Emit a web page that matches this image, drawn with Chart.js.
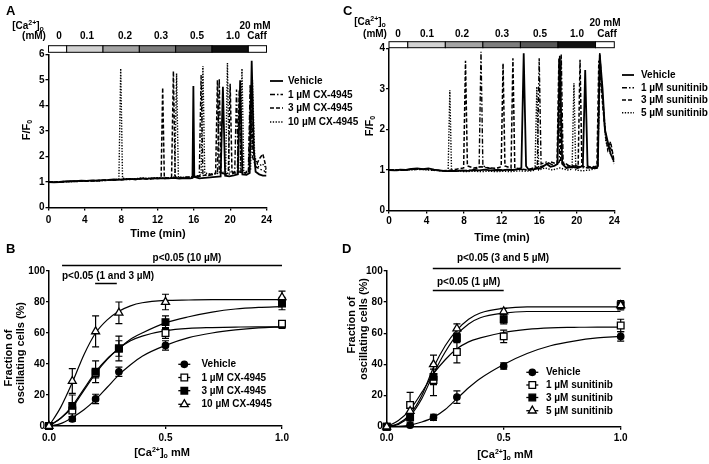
<!DOCTYPE html>
<html>
<head>
<meta charset="utf-8">
<script src="https://cdn.jsdelivr.net/npm/chart.js@4.4.0/dist/chart.umd.min.js"></script>
<style>
body { margin: 0; background: #fff; }
#wrap { position: relative; width: 709px; height: 464px; overflow: hidden; font-family: "Liberation Sans", Arial, sans-serif; font-weight: bold; color: #000; }
canvas { position: absolute; }
.t { position: absolute; white-space: nowrap; font-size: 10px; line-height: 1; }
.c { transform: translate(-50%, -50%); }
.l { transform: translateY(-50%); }
.r { transform: translate(-50%, -50%) rotate(-90deg); font-size: 11px; }
.big { font-size: 11px; }
.letter { font-size: 13px; }
.sup { font-size: 7px; position: relative; top: -4px; }
.sub { font-size: 7px; position: relative; top: 2px; }
</style>
</head>
<body>
<div id="wrap">
  <canvas id="chartA" width="354" height="240" style="left:0;top:0"></canvas>
  <canvas id="chartC" width="355" height="240" style="left:354px;top:0"></canvas>
  <canvas id="chartB" width="354" height="224" style="left:0;top:240px"></canvas>
  <canvas id="chartD" width="355" height="224" style="left:354px;top:240px"></canvas>

  <!-- panel A -->
  <div class="t l letter" style="left:6px;top:10px">A</div>
  <div class="t c" style="left:28px;top:26px">[Ca<span class="sup">2+</span>]<span class="sub">o</span></div>
  <div class="t c" style="left:34px;top:36px">(mM)</div>
  <div class="t c" style="left:59px;top:36px">0</div>
  <div class="t c" style="left:87px;top:36px">0.1</div>
  <div class="t c" style="left:125px;top:36px">0.2</div>
  <div class="t c" style="left:161px;top:36px">0.3</div>
  <div class="t c" style="left:197px;top:36px">0.5</div>
  <div class="t c" style="left:233px;top:36px">1.0</div>
  <div class="t c" style="left:257px;top:36px">Caff</div>
  <div class="t c" style="left:255px;top:26px">20 mM</div>
  <div class="t r" style="left:26px;top:130px">F/F<span class="sub">0</span></div>
  <div class="t c big" style="left:158px;top:233px">Time (min)</div>
  <div class="t l" style="left:288px;top:81px">Vehicle</div>
  <div class="t l" style="left:288px;top:94.5px">1 µM CX-4945</div>
  <div class="t l" style="left:288px;top:108px">3 µM CX-4945</div>
  <div class="t l" style="left:288px;top:122px">10 µM CX-4945</div>

  <!-- panel C -->
  <div class="t l letter" style="left:343px;top:10px">C</div>
  <div class="t c" style="left:370px;top:22px">[Ca<span class="sup">2+</span>]<span class="sub">o</span></div>
  <div class="t c" style="left:375px;top:33.5px">(mM)</div>
  <div class="t c" style="left:398px;top:33.5px">0</div>
  <div class="t c" style="left:427px;top:33.5px">0.1</div>
  <div class="t c" style="left:462px;top:33.5px">0.2</div>
  <div class="t c" style="left:502px;top:33.5px">0.3</div>
  <div class="t c" style="left:540px;top:33.5px">0.5</div>
  <div class="t c" style="left:577px;top:33.5px">1.0</div>
  <div class="t c" style="left:607px;top:33.5px">Caff</div>
  <div class="t c" style="left:605px;top:22.5px">20 mM</div>
  <div class="t r" style="left:369px;top:126px">F/F<span class="sub">0</span></div>
  <div class="t c big" style="left:502px;top:237px">Time (min)</div>
  <div class="t l" style="left:641px;top:75px">Vehicle</div>
  <div class="t l" style="left:641px;top:87.7px">1 µM sunitinib</div>
  <div class="t l" style="left:641px;top:100px">3 µM sunitinib</div>
  <div class="t l" style="left:641px;top:112.7px">5 µM sunitinib</div>

  <!-- panel B -->
  <div class="t l letter" style="left:6px;top:248px">B</div>
  <div class="t r" style="left:8px;top:358px">Fraction of</div>
  <div class="t r" style="left:20px;top:353px">oscillating cells (%)</div>
  <div class="t c big" style="left:162px;top:451.5px">[Ca<span class="sup">2+</span>]<span class="sub">o</span> mM</div>
  <div class="t c" style="left:187px;top:257.5px">p&lt;0.05 (10 µM)</div>
  <div class="t l" style="left:62px;top:275.5px">p&lt;0.05 (1 and 3 µM)</div>
  <div class="t l" style="left:201.5px;top:364.3px">Vehicle</div>
  <div class="t l" style="left:201.5px;top:377.5px">1 µM CX-4945</div>
  <div class="t l" style="left:201.5px;top:390.7px">3 µM CX-4945</div>
  <div class="t l" style="left:201.5px;top:404.3px">10 µM CX-4945</div>

  <!-- panel D -->
  <div class="t l letter" style="left:342px;top:248px">D</div>
  <div class="t r" style="left:351px;top:325px">Fraction of</div>
  <div class="t r" style="left:363px;top:329px">oscillating cells (%)</div>
  <div class="t c big" style="left:505px;top:454px">[Ca<span class="sup">2+</span>]<span class="sub">o</span> mM</div>
  <div class="t c" style="left:503px;top:258px">p&lt;0.05 (3 and 5 µM)</div>
  <div class="t l" style="left:437px;top:282.3px">p&lt;0.05 (1 µM)</div>
  <div class="t l" style="left:546px;top:372.3px">Vehicle</div>
  <div class="t l" style="left:546px;top:385px">1 µM sunitinib</div>
  <div class="t l" style="left:546px;top:397.5px">3 µM sunitinib</div>
  <div class="t l" style="left:546px;top:410.7px">5 µM sunitinib</div>
</div>

<script>
"use strict";

// ---- data: calcium protocol (minutes where each [Ca2+]o step starts/ends)
var caEdges = [0, 2, 6, 10, 14, 18, 22, 24];

// ---- panel A traces, [time (min), F/F0]
var aVehicle = [[0,1.0],[0.6,0.99],[1.2,1.0],[1.8,1.02],[2.4,1.03],[3,1.03],[3.6,1.05],[4.2,1.04],[4.8,1.06],[5.4,1.05],[6,1.07],[6.6,1.08],[7.2,1.1],[7.8,1.09],[8.4,1.11],[9,1.12],[9.6,1.1],[10.2,1.14],[10.8,1.12],[11.4,1.15],[12,1.13],[12.6,1.15],[13.2,1.14],[13.8,1.16],[14.4,1.13],[15,1.15],[15.6,1.14],[15.85,1.16],[15.95,4.76],[16.05,1.2],[16.6,1.14],[17.2,1.16],[17.8,1.18],[18.4,1.2],[18.95,1.22],[19.2,4.73],[19.45,1.25],[19.9,1.22],[20.4,1.26],[20.85,1.3],[21.1,4.99],[21.35,1.3],[21.8,1.28],[22.15,1.35],[22.37,5.75],[22.6,2.3],[22.8,1.4],[23.2,1.3],[23.6,1.25],[24,1.25]];
var aCx1 = [[0,1.0],[0.8,1.01],[1.6,1.0],[2.4,1.03],[3.2,1.02],[4,1.05],[4.8,1.04],[5.6,1.06],[6.4,1.08],[7.2,1.07],[8,1.1],[8.8,1.09],[9.6,1.12],[10.4,1.14],[11.2,1.12],[12,1.16],[12.8,1.14],[13.6,1.17],[14.4,1.15],[15.2,1.18],[16,1.2],[16.6,1.25],[16.8,5.2],[17.0,1.3],[17.6,1.25],[18.2,1.3],[18.6,1.35],[18.8,5.06],[19.0,1.35],[19.6,1.3],[20.2,1.32],[20.5,1.35],[20.7,4.63],[20.9,1.4],[21.5,1.35],[22.0,1.4],[22.2,4.8],[22.45,2.0],[22.8,1.6],[23.3,1.5],[23.7,1.45],[24,1.35]];
var aCx3 = [[0,1.0],[0.8,0.99],[1.6,1.01],[2.4,1.02],[3.2,1.04],[4,1.03],[4.8,1.05],[5.6,1.07],[6.4,1.06],[7.2,1.09],[8,1.08],[8.8,1.11],[9.6,1.1],[10.4,1.13],[11.2,1.12],[12,1.15],[12.4,1.16],[12.57,4.7],[12.75,1.18],[13.2,1.15],[13.55,1.2],[13.75,5.35],[13.95,1.2],[14.6,1.17],[15.4,1.2],[16.2,1.18],[17,1.25],[17.8,1.3],[18.4,1.35],[18.6,5.0],[18.8,1.4],[19.4,1.3],[19.8,1.35],[20.0,4.85],[20.2,1.4],[20.8,1.35],[21.0,4.6],[21.2,1.4],[21.7,1.35],[22.05,1.45],[22.25,4.75],[22.5,2.4],[22.8,1.6],[23.2,1.9],[23.6,2.1],[23.8,1.8],[24,1.5]];
var aCx10 = [[0,1.0],[0.8,1.0],[1.6,1.02],[2.4,1.01],[3.2,1.03],[4,1.04],[4.8,1.05],[5.6,1.04],[6.4,1.07],[7.2,1.08],[7.75,1.12],[7.95,5.45],[8.15,1.15],[8.8,1.12],[9.6,1.13],[10.4,1.16],[11.2,1.14],[12,1.17],[12.8,1.15],[13.6,1.18],[13.9,1.2],[14.1,5.25],[14.3,1.2],[15,1.18],[15.8,1.2],[16.5,1.25],[16.8,1.3],[17.0,5.55],[17.2,1.35],[18,1.3],[18.8,1.35],[19.5,1.4],[19.7,5.67],[19.9,1.4],[20.6,1.35],[21.1,1.4],[21.3,5.45],[21.5,1.45],[21.9,1.4],[22.25,1.5],[22.45,5.0],[22.7,2.0],[23.1,1.6],[23.5,1.7],[23.8,1.65],[24,1.4]];

// ---- panel C traces, [time (min), F/F0]
var cVehicle = [[0,1.0],[0.6,0.99],[1.2,1.01],[1.8,1.0],[2.4,1.03],[3,1.04],[3.6,1.02],[4.2,1.04],[4.8,1.01],[5.4,0.99],[6,0.97],[6.6,0.98],[7.2,0.97],[7.8,0.99],[8.4,0.98],[9,1.0],[9.6,0.99],[10.2,1.01],[10.8,0.99],[11.4,1.0],[12,0.99],[12.6,1.01],[13.2,1.0],[13.8,1.02],[14.1,1.05],[14.35,3.88],[14.6,1.1],[14.9,1.0],[15.5,1.02],[16.2,1.05],[16.8,1.15],[17.2,1.08],[17.6,1.1],[17.95,1.15],[18.2,3.82],[18.45,1.15],[18.9,1.05],[19.5,1.08],[20.1,1.05],[20.65,1.1],[20.9,3.47],[21.15,1.1],[21.6,1.05],[22.1,1.05],[22.25,1.1],[22.45,3.85],[22.75,3.0],[23.0,2.0],[23.3,1.7],[23.6,1.4],[24,1.2]];
var cSun1 = [[0,1.0],[0.8,1.01],[1.6,0.99],[2.4,1.02],[3.2,1.03],[4,1.01],[4.8,1.0],[5.6,0.98],[6.4,0.97],[7.2,0.99],[8,0.98],[8.8,1.0],[9.6,1.05],[9.8,3.92],[10.0,1.1],[10.6,1.05],[11.4,1.02],[12.2,1.0],[13.0,1.0],[13.8,1.02],[14.6,1.0],[15.4,1.05],[15.8,1.1],[16.0,3.76],[16.2,1.15],[16.8,1.2],[17.6,1.1],[18.15,1.2],[18.35,3.85],[18.55,1.2],[19.2,1.1],[20.0,1.1],[20.8,1.05],[21.6,1.08],[22.25,1.1],[22.45,3.9],[22.75,2.8],[23.1,1.8],[23.4,1.6],[23.7,1.5],[24,1.25]];
var cSun3 = [[0,1.0],[0.8,0.99],[1.6,1.0],[2.4,1.02],[3.2,1.01],[4,1.03],[4.8,1.0],[5.6,0.98],[6.4,0.99],[7.2,1.02],[7.95,1.05],[8.15,3.7],[8.35,1.1],[9.0,1.05],[9.8,1.08],[10.6,1.05],[11.4,1.04],[11.95,1.08],[12.15,3.63],[12.35,1.1],[13.0,1.05],[13.2,3.76],[13.4,1.05],[14.0,1.03],[14.8,1.0],[15.6,1.05],[16.4,1.1],[17.2,1.2],[17.9,1.15],[18.1,3.75],[18.3,1.2],[19.0,1.1],[19.8,1.1],[20.15,1.12],[20.35,3.72],[20.55,1.1],[21.2,1.05],[21.9,1.08],[22.15,1.1],[22.35,3.7],[22.65,2.9],[23.0,2.0],[23.3,1.5],[23.6,1.7],[24,1.2]];
var cSun5 = [[0,1.0],[0.8,1.0],[1.6,1.01],[2.4,1.0],[3.2,1.02],[4,1.0],[4.8,0.99],[5.6,0.98],[6.3,0.97],[6.48,2.97],[6.66,0.98],[7.4,0.97],[8.2,0.96],[9.0,0.97],[9.8,0.96],[10.6,0.97],[11.4,0.96],[12.2,0.97],[13.0,0.96],[13.8,0.98],[14.6,0.97],[15.2,0.98],[15.55,1.0],[15.75,3.06],[15.95,1.0],[16.6,1.05],[17.4,1.0],[18.2,1.05],[19.0,1.0],[19.5,1.02],[19.7,3.14],[19.9,1.0],[20.6,0.98],[21.4,1.0],[22.2,1.05],[22.5,3.6],[22.8,2.6],[23.1,1.7],[23.4,1.5],[23.7,1.35],[24,1.15]];

// ---- panels B and D: [Ca2+]o (mM), mean and SEM of oscillating cells (%)
var doses = [0, 0.1, 0.2, 0.3, 0.5, 1.0];
var bVehicle = [0, 4.5, 17.5, 35, 52, 65];
var bVehicleErr = [0, 1.5, 3, 3, 3, 2];
var bCx1 = [0, 10, 34, 50, 60, 66];
var bCx1Err = [0, 4, 3, 5, 3.5, 2];
var bCx3 = [0, 13, 35, 50, 67, 79];
var bCx3Err = [0, 7, 7, 8, 4, 4];
var bCx10 = [0, 29, 61, 73, 80, 83];
var bCx10Err = [0, 8, 10, 7, 5, 4];

var dVehicle = [0, 1, 6, 19, 39, 58];
var dVehicleErr = [0, 0.5, 2, 4, 2, 3];
var dSun1 = [0, 14, 30, 48, 58, 65];
var dSun1Err = [0, 8, 10, 7, 4, 4];
var dSun3 = [0, 6, 32, 57, 69, 78];
var dSun3Err = [0, 3, 5, 3, 3, 3];
var dSun5 = [0, 10, 40, 63, 74, 78];
var dSun5Err = [0, 4, 6, 3, 2, 2];

// fitted curves at these doses
var fitDoses = [0, 0.05, 0.1, 0.15, 0.2, 0.25, 0.3, 0.35, 0.4, 0.5, 0.6, 0.7, 0.8, 0.9, 1.0];
var bVehicleFit = [0, 1.5, 5.5, 10.5, 17, 25, 33, 39.5, 45, 52, 57, 60, 62, 63.3, 64];
var bCx1Fit = [0, 5, 12, 23, 34, 43, 50, 55, 58, 61.5, 63, 63.5, 63.8, 64, 64];
var bCx3Fit = [0, 5, 13, 24, 35, 43.5, 50, 56, 60, 66.5, 70.5, 73.5, 75.5, 76.5, 77];
var bCx10Fit = [0, 12, 28, 46, 60, 68.5, 74, 77.5, 79.5, 81, 81.3, 81.5, 81.5, 81.5, 81.5];
var dVehicleFit = [0, 0.2, 1, 3, 6, 11, 18, 25, 31, 40, 47, 52, 55, 57, 58];
var dSun1Fit = [0, 4, 11, 22, 34, 43, 50, 54.5, 57, 60.5, 62.5, 63.5, 63.8, 64, 64];
var dSun3Fit = [0, 1.5, 7, 18, 34, 48, 59, 66, 70, 73, 74, 74, 74, 74, 74];
var dSun5Fit = [0, 2, 8, 20, 38, 52, 62, 69, 73, 76, 77, 77, 77, 77, 77];

// significance bars: [from dose, to dose, height (%)]
var bSig = [[0.056, 1.0, 103.9], [0.198, 0.291, 92.4]];
var dSig = [[0.197, 1.0, 102.1], [0.197, 0.5, 87.8]];

// ---- styles
var FONT = '"Liberation Sans", Arial, sans-serif';
var caShades = ['#ffffff', '#d2d2d2', '#a4a4a4', '#7e7e7e', '#575757', '#111111', '#ffffff'];
var traceStyles = [
    { dash: [], width: 1.8 },
    { dash: [5, 2, 1.5, 2], width: 1.4 },
    { dash: [4, 2], width: 1.5 },
    { dash: [1.3, 1.5], width: 1.4 }
];
var markStyles = [
    { shape: 'circle', fill: '#000', chart: 'circle', r: 3.2 },
    { shape: 'rect', fill: '#fff', chart: 'rect', r: 4.7 },
    { shape: 'rect', fill: '#000', chart: 'rect', r: 4.7 },
    { shape: 'triangle', fill: '#fff', chart: 'triangle', r: 4.6 }
];

function toXY(pairs) {
    return pairs.map(function (p) { return { x: p[0], y: p[1] }; });
}
function zip(xs, ys) {
    return xs.map(function (x, i) { return { x: x, y: ys[i] }; });
}

function axis(min, max, step, pad, size, isX, fmt) {
    var a = {
        type: 'linear', min: min, max: max,
        ticks: { stepSize: step, color: '#000', padding: pad, font: { family: FONT, size: 10, weight: 'bold' } },
        grid: { display: true, drawOnChartArea: false, drawTicks: true, tickLength: 3, color: '#000', lineWidth: 1.3 },
        border: { display: true, color: '#000', width: 1.5 },
        afterFit: function (s) { if (isX) { s.height = size; } else { s.width = size; } }
    };
    if (fmt) a.ticks.callback = fmt;
    return a;
}

function drawMark(ctx, st, x, y) {
    ctx.beginPath();
    if (st.shape === 'circle') ctx.arc(x, y, 3.2, 0, Math.PI * 2);
    else if (st.shape === 'rect') ctx.rect(x - 3.3, y - 3.3, 6.6, 6.6);
    else { ctx.moveTo(x, y - 4.6); ctx.lineTo(x + 4, y + 2.3); ctx.lineTo(x - 4, y + 2.3); ctx.closePath(); }
    ctx.fillStyle = st.fill; ctx.fill();
    ctx.lineWidth = 1.3; ctx.strokeStyle = '#000'; ctx.stroke();
}

// colour bar of the protocol + legend line samples
function tracePlugin(barTop, barH, legX, legY) {
    return {
        id: 'traceDeco',
        afterDraw: function (chart) {
            var ctx = chart.ctx, xs = chart.scales.x;
            ctx.save();
            for (var i = 0; i < caEdges.length - 1; i++) {
                var x1 = xs.getPixelForValue(caEdges[i]), x2 = xs.getPixelForValue(caEdges[i + 1]);
                ctx.fillStyle = caShades[i];
                ctx.fillRect(x1, barTop, x2 - x1, barH);
                ctx.strokeStyle = '#000'; ctx.lineWidth = 1;
                ctx.strokeRect(x1, barTop, x2 - x1, barH);
            }
            traceStyles.forEach(function (s, k) {
                ctx.setLineDash(s.dash); ctx.lineWidth = s.width; ctx.strokeStyle = '#000';
                ctx.beginPath(); ctx.moveTo(legX[0], legY[k]); ctx.lineTo(legX[1], legY[k]); ctx.stroke();
            });
            ctx.restore();
        }
    };
}

// error bars under the markers, significance bars and legend samples
function dosePlugin(means, errs, sig, legX, legY) {
    return {
        id: 'doseDeco',
        beforeDatasetsDraw: function (chart) {
            var ctx = chart.ctx, xs = chart.scales.x, ys = chart.scales.y;
            ctx.save();
            ctx.strokeStyle = '#000'; ctx.lineWidth = 1.2;
            means.forEach(function (m, i) {
                doses.forEach(function (d, j) {
                    if (!errs[i][j]) return;
                    var px = xs.getPixelForValue(d);
                    var y1 = ys.getPixelForValue(m[j] + errs[i][j]);
                    var y2 = ys.getPixelForValue(m[j] - errs[i][j]);
                    ctx.beginPath();
                    ctx.moveTo(px, y1); ctx.lineTo(px, y2);
                    ctx.moveTo(px - 3.5, y1); ctx.lineTo(px + 3.5, y1);
                    ctx.moveTo(px - 3.5, y2); ctx.lineTo(px + 3.5, y2);
                    ctx.stroke();
                });
            });
            ctx.restore();
        },
        afterDraw: function (chart) {
            var ctx = chart.ctx, xs = chart.scales.x, ys = chart.scales.y;
            ctx.save();
            ctx.strokeStyle = '#000'; ctx.lineWidth = 1.5;
            sig.forEach(function (s) {
                var y = Math.round(ys.getPixelForValue(s[2])) + 0.5;
                ctx.beginPath();
                ctx.moveTo(xs.getPixelForValue(s[0]), y); ctx.lineTo(xs.getPixelForValue(s[1]), y);
                ctx.stroke();
            });
            markStyles.forEach(function (st, k) {
                ctx.lineWidth = 1.3; ctx.strokeStyle = '#000';
                ctx.beginPath(); ctx.moveTo(legX - 6, legY[k]); ctx.lineTo(legX + 6, legY[k]); ctx.stroke();
                drawMark(ctx, st, legX, legY[k]);
            });
            ctx.restore();
        }
    };
}

function traceChart(id, series, yMax, box, xPad, bar, legX, legY) {
    return new Chart(document.getElementById(id), {
        type: 'scatter',
        data: {
            datasets: series.map(function (s, i) {
                return {
                    data: toXY(s), showLine: true, pointRadius: 0, tension: 0,
                    borderColor: '#000', borderWidth: traceStyles[i].width, borderDash: traceStyles[i].dash,
                    order: series.length - i
                };
            })
        },
        options: {
            responsive: false, animation: false, devicePixelRatio: 1,
            layout: { padding: { left: 0, top: box.top, right: box.right, bottom: 0 } },
            scales: {
                x: axis(0, 24, 4, xPad, box.xh, true),
                y: axis(0, yMax, 1, 1, box.yw, false)
            },
            plugins: { legend: { display: false }, tooltip: { enabled: false } }
        },
        plugins: [tracePlugin(bar[0], bar[1], legX, legY)]
    });
}

function doseChart(id, means, errs, fits, sig, box, legX, legY) {
    var sets = [];
    fits.forEach(function (f) {
        sets.push({
            data: zip(fitDoses, f), showLine: true, pointRadius: 0, cubicInterpolationMode: 'monotone',
            borderColor: '#000', borderWidth: 1.2, order: 5
        });
    });
    means.forEach(function (m, i) {
        var st = markStyles[i];
        sets.push({
            data: zip(doses, m), showLine: false, clip: false,
            pointStyle: st.chart, pointRadius: st.r, pointBackgroundColor: st.fill,
            pointBorderColor: '#000', pointBorderWidth: 1.3, order: 4 - i
        });
    });
    return new Chart(document.getElementById(id), {
        type: 'scatter',
        data: { datasets: sets },
        options: {
            responsive: false, animation: false, devicePixelRatio: 1,
            layout: { padding: { left: 0, top: box.top, right: box.right, bottom: 0 } },
            scales: {
                x: axis(0, 1, 0.5, 3, box.xh, true, function (v) { return v.toFixed(1); }),
                y: axis(0, 100, 20, 1, box.yw, false)
            },
            plugins: { legend: { display: false }, tooltip: { enabled: false } }
        },
        plugins: [dosePlugin(means, errs, sig, legX, legY)]
    });
}

traceChart('chartA', [aVehicle, aCx1, aCx3, aCx10], 6,
    { top: 54.5, right: 87.5, xh: 32.5, yw: 48.5 }, 4, [45.7, 6.6], [270, 283], [81, 94.5, 108, 122]);
traceChart('chartC', [cVehicle, cSun1, cSun3, cSun5], 4,
    { top: 48.5, right: 94.7, xh: 29.5, yw: 35 }, 2, [41.7, 6], [268, 280], [75, 87.7, 100, 112.7]);

doseChart('chartB', [bVehicle, bCx1, bCx3, bCx10], [bVehicleErr, bCx1Err, bCx3Err, bCx10Err],
    [bVehicleFit, bCx1Fit, bCx3Fit, bCx10Fit], bSig,
    { top: 31, right: 72, xh: 38, yw: 49 }, 184.3, [124.3, 137.5, 150.7, 164.3]);
doseChart('chartD', [dVehicle, dSun1, dSun3, dSun5], [dVehicleErr, dSun1Err, dSun3Err, dSun5Err],
    [dVehicleFit, dSun1Fit, dSun3Fit, dSun5Fit], dSig,
    { top: 31, right: 88.3, xh: 37.3, yw: 32.7 }, 178.3, [132.3, 145, 157.5, 170.7]);
</script>
</body>
</html>
